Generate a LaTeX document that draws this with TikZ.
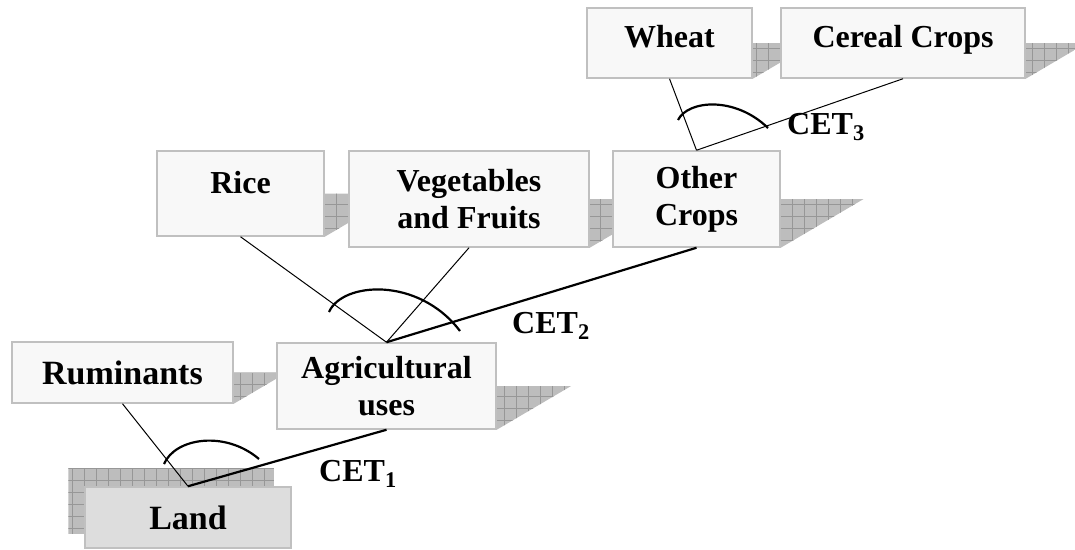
\documentclass[tikz,border=0pt]{standalone}
\usepackage{fontspec}
\setmainfont{Liberation Serif}
\usetikzlibrary{calc,backgrounds}
\definecolor{boxfill}{HTML}{F8F8F8}
\definecolor{landfill}{HTML}{DDDDDD}
\definecolor{boxline}{HTML}{C0C0C0}
\definecolor{shadefill}{HTML}{BDBDBD}
\definecolor{shadegrid}{HTML}{979797}
\begin{document}
\begin{tikzpicture}[x=1pt, y=-1pt,
    box/.style={draw=boxline, line width=1.5pt, fill=boxfill, inner sep=0pt, align=center,
      font=\bfseries\fontsize{32}{37}\selectfont},
    widebox/.style={box, font=\bfseries\fontsize{34}{37}\selectfont},
    link/.style={line width=1pt},
    mainlink/.style={line width=2.2pt},
    cetarc/.style={line width=2.2pt},
    cet/.style={anchor=base west, inner sep=0pt, font=\bfseries\fontsize{32}{37}\selectfont}]
  \useasboundingbox (0,0) rectangle (1075,549);
  % boxes
  \node[widebox, fill=landfill, minimum width=206pt, minimum height=61pt] (land) at (188,517.5) {Land};
  \node[widebox, minimum width=221pt, minimum height=61pt] (rum) at (122.5,372.5) {Ruminants};
  \node[box, minimum width=219pt, minimum height=86pt] (agric) at (386.5,386) {Agricultural\\uses};
  \node[box, minimum width=167pt, minimum height=85pt, text depth=23pt] (rice) at (240.5,193.5) {Rice};
  \node[box, minimum width=240pt, minimum height=96pt] (veg) at (469,199) {Vegetables\\and Fruits};
  \node[box, minimum width=167pt, minimum height=96pt] (other) at (696.5,199) {Other\\Crops};
  \node[box, minimum width=165pt, minimum height=70pt, text depth=14pt] (wheat) at (669.5,43) {Wheat};
  \node[box, minimum width=244pt, minimum height=70pt, text depth=14pt] (cereal) at (903,43) {Cereal Crops};
  % shadows
  \begin{pgfonlayer}{background}
    \foreach \b in {rum,agric,rice,veg,other,wheat,cereal} {
      \begin{scope}
        \clip let \p1=($(\b.east)-(\b.south east)$) in
          (\b.east) -- ++(1.7*\y1,0pt) -- (\b.south east) -- cycle;
        \fill[shadefill] (0,0) rectangle (1075,549);
        \draw[shadegrid, line width=0.6pt, step=12pt] (0,0) grid (1075,549);
      \end{scope}
    }
    \begin{scope}
      \clip ($(land.north west)+(-16,-18)$) rectangle ($(land.south east)+(-18,-15)$);
      \fill[shadefill] (0,0) rectangle (1075,549);
      \draw[shadegrid, line width=0.6pt, step=12pt] (0,0) grid (1075,549);
    \end{scope}
  \end{pgfonlayer}
  % connectors
  \draw[link] (rum.south) -- (land.north);
  \draw[mainlink] (agric.south) -- (land.north);
  \draw[link] (rice.south) -- (agric.north);
  \draw[link] (veg.south) -- (agric.north);
  \draw[mainlink] (other.south) -- (agric.north);
  \draw[link] (wheat.south) -- (other.north);
  \draw[link] (cereal.south) -- (other.north);
  % arcs
  \draw[cetarc] (164,464) .. controls (175,438) and (225,430) .. (259,459);
  \draw[cetarc] (329,312) .. controls (342,282) and (418,276) .. (460,331);
  \draw[cetarc] (678,120) .. controls (688,100) and (735,96) .. (768,128);
  % labels
  \node[cet] (cet1) at (319,481) {CET\textsubscript{1}};
  \node[cet] (cet2) at (512,333) {CET\textsubscript{2}};
  \node[cet] (cet3) at (787,134) {CET\textsubscript{3}};
\end{tikzpicture}
\end{document}
